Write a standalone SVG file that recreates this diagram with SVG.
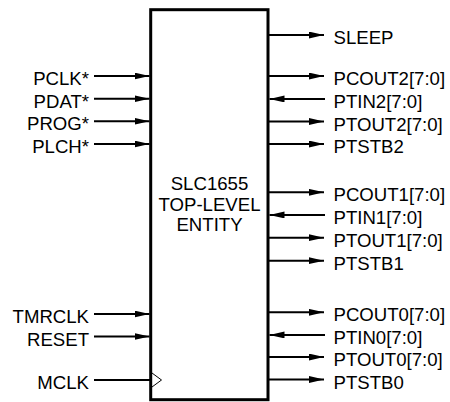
<svg xmlns="http://www.w3.org/2000/svg" width="450" height="402" viewBox="0 0 450 402">
<style>
text{font-family:"Liberation Sans",Arial,sans-serif;font-size:18.6px;fill:#000}
.l{text-anchor:end}
.c{text-anchor:middle}
.w{stroke:#000;stroke-width:2;fill:none}
</style>
<defs>
<marker id="ah" markerUnits="userSpaceOnUse" markerWidth="16" markerHeight="8" refX="15" refY="3.4" orient="auto">
<path d="M0,0 L15,3.4 L0,6.8 Z" fill="#000"/>
</marker>
</defs>
<rect width="450" height="402" fill="#fff"/>
<g id="entity">
<rect x="150.7" y="9.7" width="117.3" height="390" fill="#fff" stroke="#000" stroke-width="3"/>
<polyline points="152,373 161.5,380 152,387" fill="none" stroke="#000" stroke-width="1"/>
<text class="c" x="209.5" y="190">SLC1655</text>
<text class="c" x="209.5" y="210.5">TOP-LEVEL</text>
<text class="c" x="209.5" y="231">ENTITY</text>
</g>
<g id="connectors">
<line class="w" x1="94" y1="76" x2="149.5" y2="76" marker-end="url(#ah)"/>
<line class="w" x1="94" y1="98.7" x2="149.5" y2="98.7" marker-end="url(#ah)"/>
<line class="w" x1="94" y1="121.3" x2="149.5" y2="121.3" marker-end="url(#ah)"/>
<line class="w" x1="94" y1="144" x2="149.5" y2="144" marker-end="url(#ah)"/>
<line class="w" x1="94" y1="314" x2="149.5" y2="314" marker-end="url(#ah)"/>
<line class="w" x1="94" y1="336.5" x2="149.5" y2="336.5" marker-end="url(#ah)"/>
<line class="w" x1="94" y1="380" x2="150" y2="380"/>
<line class="w" x1="269" y1="35" x2="324" y2="35" marker-end="url(#ah)"/>
<line class="w" x1="269" y1="76" x2="324" y2="76" marker-end="url(#ah)"/>
<line class="w" x1="325" y1="99" x2="269.5" y2="99" marker-end="url(#ah)"/>
<line class="w" x1="269" y1="121.5" x2="324" y2="121.5" marker-end="url(#ah)"/>
<line class="w" x1="269" y1="144" x2="324" y2="144" marker-end="url(#ah)"/>
<line class="w" x1="269" y1="192.3" x2="324" y2="192.3" marker-end="url(#ah)"/>
<line class="w" x1="325" y1="215" x2="269.5" y2="215" marker-end="url(#ah)"/>
<line class="w" x1="269" y1="237.7" x2="324" y2="237.7" marker-end="url(#ah)"/>
<line class="w" x1="269" y1="260.7" x2="324" y2="260.7" marker-end="url(#ah)"/>
<line class="w" x1="269" y1="312.3" x2="324" y2="312.3" marker-end="url(#ah)"/>
<line class="w" x1="325" y1="335" x2="269.5" y2="335" marker-end="url(#ah)"/>
<line class="w" x1="269" y1="357" x2="324" y2="357" marker-end="url(#ah)"/>
<line class="w" x1="269" y1="379.5" x2="324" y2="379.5" marker-end="url(#ah)"/>
</g>
<g id="inputs">
<text class="l" x="89" y="85">PCLK*</text>
<text class="l" x="89" y="107.7">PDAT*</text>
<text class="l" x="89" y="130.3">PROG*</text>
<text class="l" x="89" y="153">PLCH*</text>
<text class="l" x="89" y="323">TMRCLK</text>
<text class="l" x="89" y="345.5">RESET</text>
<text class="l" x="89" y="389">MCLK</text>
</g>
<g id="outputs">
<text x="333.5" y="44">SLEEP</text>
<text x="333.5" y="85">PCOUT2[7:0]</text>
<text x="333.5" y="108">PTIN2[7:0]</text>
<text x="333.5" y="130.5">PTOUT2[7:0]</text>
<text x="333.5" y="153">PTSTB2</text>
<text x="333.5" y="201.3">PCOUT1[7:0]</text>
<text x="333.5" y="224">PTIN1[7:0]</text>
<text x="333.5" y="246.7">PTOUT1[7:0]</text>
<text x="333.5" y="269.7">PTSTB1</text>
<text x="333.5" y="321.3">PCOUT0[7:0]</text>
<text x="333.5" y="344">PTIN0[7:0]</text>
<text x="333.5" y="366">PTOUT0[7:0]</text>
<text x="333.5" y="388.5">PTSTB0</text>
</g>
</svg>
